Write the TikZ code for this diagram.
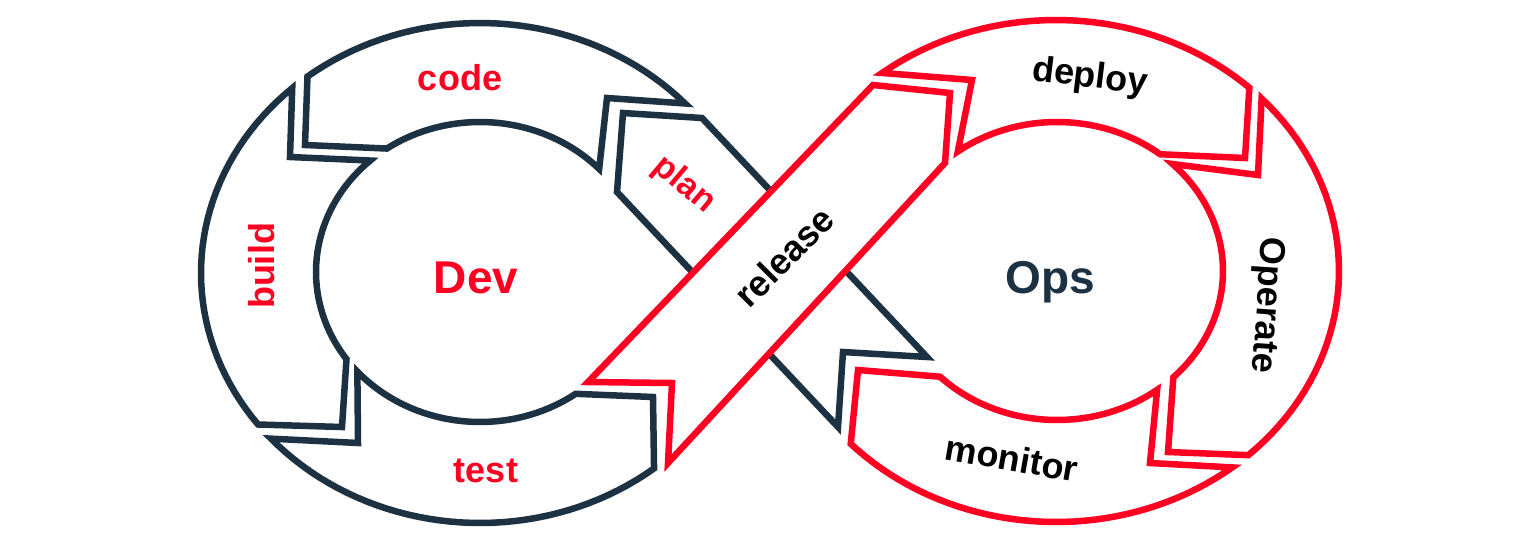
\documentclass[tikz,border=0pt]{standalone}
\usepackage{fontspec}
\setmainfont{Liberation Sans}
\definecolor{devred}{HTML}{FF0022}
\definecolor{navy}{HTML}{1C3142}
\begin{document}
\begin{tikzpicture}[x=1pt,y=-1pt,
  seg/.style={line width=6.5pt, fill=white, line join=miter},
  devseg/.style={seg, draw=navy},
  opsseg/.style={seg, draw=devred},
  lbl/.style={font=\fontsize{36}{40}\selectfont\bfseries, inner sep=0pt},
  big/.style={font=\fontsize{46}{50}\selectfont\bfseries, inner sep=0pt},
]
\useasboundingbox (0,0) rectangle (1527,547);
\fill[white] (0,0) rectangle (1527,547);
% Dev loop
\draw[devseg] plot[domain=-128.2:-42.7, samples=40] ({480+279*cos(\x)}, {273+250*sin(\x)})
  -- (607,98) -- plot[domain=-43.4:-124.6, samples=40] ({480+164*cos(\x)}, {272+150*sin(\x)})
  -- (305,145) -- cycle;
\draw[devseg] plot[domain=-132.3:-217.3, samples=40] ({480+279*cos(\x)}, {273+250*sin(\x)})
  -- (342,427) -- plot[domain=-215.5:-132, samples=40] ({480+164*cos(\x)}, {272+150*sin(\x)})
  -- (290,157) -- cycle;
\draw[devseg] plot[domain=138.5:51.4, samples=40] ({480+279*cos(\x)}, {273+250*sin(\x)})
  -- (653,397) -- plot[domain=54.3:138.4, samples=40] ({480+164*cos(\x)}, {272+150*sin(\x)})
  -- (358,443) -- cycle;
% Ops loop
\draw[opsseg] plot[domain=-127.9:-46.9, samples=40] ({1056+283*cos(\x)}, {271+251*sin(\x)})
  -- (1245,158) -- plot[domain=-51.6:-126.7, samples=40] ({1057+166*cos(\x)}, {271+149*sin(\x)})
  -- (972,80) -- cycle;
\draw[opsseg] plot[domain=-43.4:47.2, samples=40] ({1056+283*cos(\x)}, {271+251*sin(\x)})
  -- (1168,452) -- plot[domain=45.5:-45.9, samples=40] ({1057+166*cos(\x)}, {271+149*sin(\x)})
  -- (1258,175) -- cycle;
\draw[opsseg] plot[domain=51.5:136.5, samples=40] ({1056+283*cos(\x)}, {271+251*sin(\x)})
  -- (858,370) -- plot[domain=134.8:52.9, samples=40] ({1057+166*cos(\x)}, {271+149*sin(\x)})
  -- (1150,463) -- cycle;
% crossing bands
\draw[devseg] (623,113) -- (702,118) -- (927,357) -- (843,352) -- (838,427) -- (617,192) -- cycle;
\draw[opsseg] (873,85) -- (950,93) -- (945,163) -- (668,463) -- (672,383) -- (588,382) -- cycle;
% labels
\node[lbl, text=devred, anchor=base] (code) at (460,90) {code};
\node[lbl, text=devred, rotate=90] (build) at (262,266) {build};
\node[lbl, text=devred, anchor=base] (test) at (486,482) {test};
\node[lbl, text=devred, rotate=-40, font=\fontsize{34}{38}\selectfont\bfseries] (plan) at (684,185) {plan};
\node[lbl, rotate=45] (release) at (784,257) {release};
\node[lbl, rotate=-7] (deploy) at (1090,78) {deploy};
\node[lbl, rotate=-94] (operate) at (1266,305) {Operate};
\node[lbl, rotate=-10] (monitor) at (1012,458) {monitor};
\node[big, text=devred, anchor=base] (dev) at (476,293) {Dev};
\node[big, text=navy, anchor=base] (ops) at (1050,293) {Ops};
\end{tikzpicture}
\end{document}
